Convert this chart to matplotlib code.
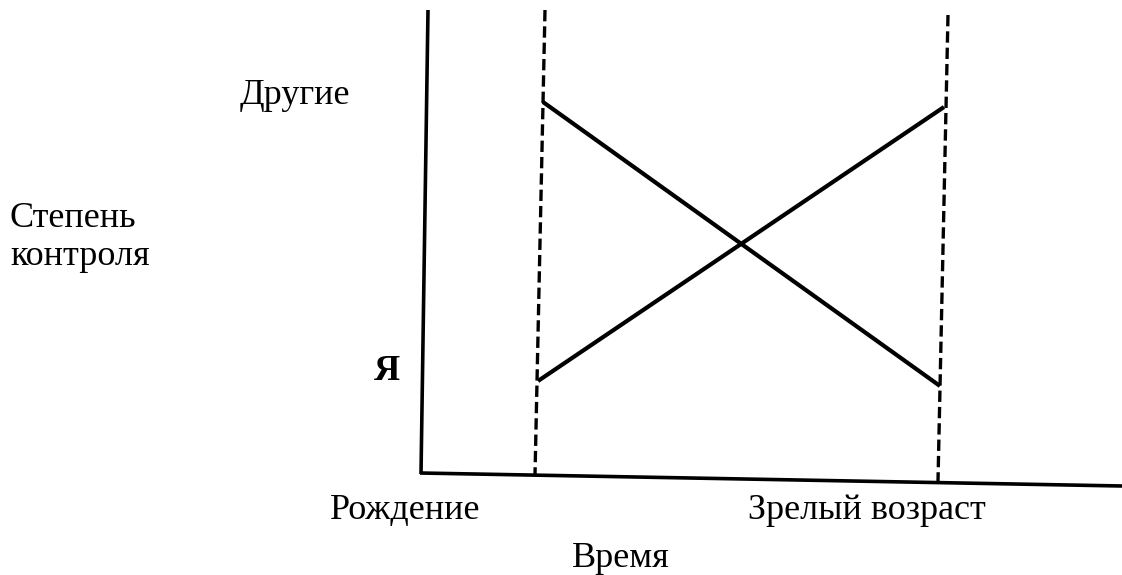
import matplotlib
matplotlib.use("Agg")
import matplotlib.pyplot as plt

# diagram drawn in image-like units (x to the right, y downward)
y_axis_x = [428, 421]
y_axis_y = [10, 474]
x_axis_x = [420, 1122]
x_axis_y = [473, 486]

birth_dash_x = [545, 535]
birth_dash_y = [10, 475]
mature_dash_x = [948, 938]
mature_dash_y = [15, 481]

others_x = [543, 940]
others_y = [102, 386]
self_x = [538, 944]
self_y = [381, 107]

plt.rcParams['font.family'] = ['Liberation Serif', 'DejaVu Serif']

fig = plt.figure(figsize=(11.22, 5.75), dpi=100)
ax = fig.add_axes([0, 0, 1, 1])
ax.set_xlim(0, 1122)
ax.set_ylim(575, 0)
ax.axis('off')

ax.plot(y_axis_x, y_axis_y, color='black', lw=2.6, solid_capstyle='butt')
ax.plot(x_axis_x, x_axis_y, color='black', lw=2.6, solid_capstyle='butt')
ax.plot(birth_dash_x, birth_dash_y, color='black', lw=2.4, dashes=(3.4, 1.5))
ax.plot(mature_dash_x, mature_dash_y, color='black', lw=2.4, dashes=(3.4, 1.5))
ax.plot(others_x, others_y, color='black', lw=3.0, solid_capstyle='butt')
ax.plot(self_x, self_y, color='black', lw=3.0, solid_capstyle='butt')

fs = 26
ax.text(240, 104, 'Другие', fontsize=fs, va='baseline', ha='left')
ax.text(10, 227, 'Степень', fontsize=fs, va='baseline', ha='left')
ax.text(10, 265, 'контроля', fontsize=fs, va='baseline', ha='left')
ax.text(374, 380, 'Я', fontsize=fs, fontweight='bold', va='baseline', ha='left')
ax.text(330, 519, 'Рождение', fontsize=fs, va='baseline', ha='left')
ax.text(748, 519, 'Зрелый возраст', fontsize=fs, va='baseline', ha='left')
ax.text(572, 567, 'Время', fontsize=fs, va='baseline', ha='left')

fig.savefig('out.png', dpi=100, facecolor='white')
